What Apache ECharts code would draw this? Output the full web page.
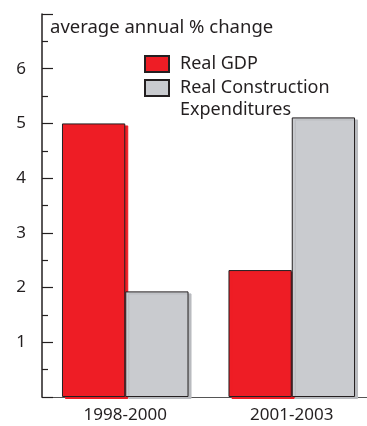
<!DOCTYPE html>
<html>
<head>
<meta charset="utf-8">
<script src="https://cdn.jsdelivr.net/npm/echarts@6/dist/echarts.min.js"></script>
<style>
  html, body { margin: 0; padding: 0; background: #fff; }
  #chart { width: 367px; height: 426px; }
</style>
</head>
<body>
<div id="chart"></div>
<script>
// periods and average annual % change
const periods = ['1998-2000', '2001-2003'];
const realGdp = [5.0, 2.32];
const realConstruction = [1.93, 5.11];
const yTicks = [1, 2, 3, 4, 5, 6];

const ink = '#231F20';
const font = 'Noto Sans';

const chart = echarts.init(document.getElementById('chart'));

const legendText = {
    color: ink,
    fontFamily: font,
    fontSize: 18,
    lineHeight: 22,
    rich: {
        a: { color: ink, fontFamily: font, fontSize: 18, lineHeight: 22, padding: [0, 0, 0, 6] }
    }
};

const option = {
    animation: false,
    title: {
        text: 'average annual % change',
        left: 50,
        top: 18,
        padding: 0,
        textStyle: {
            color: ink,
            fontFamily: font,
            fontSize: 18.5,
            fontWeight: 'normal'
        }
    },
    legend: [
        {
            data: ['Real GDP'],
            left: 144,
            top: 53,
            padding: 0,
            icon: 'rect',
            itemWidth: 24,
            itemHeight: 16,
            formatter: name => '{a|' + name + '}',
            textStyle: legendText
        },
        {
            data: ['Real Construction Expenditures'],
            left: 144,
            top: 55,
            padding: 0,
            icon: 'rect',
            itemWidth: 24,
            itemHeight: 16,
            // blank first line keeps the box level with "Real Construction"
            formatter: () => '{a| }\n{a|Real Construction}\n{a|Expenditures}',
            textStyle: legendText
        }
    ],
    grid: {
        left: 42,
        width: 333,
        top: 14,
        bottom: 29,
        outerBoundsMode: 'none'
    },
    xAxis: {
        type: 'category',
        data: periods,
        axisLine: { lineStyle: { color: '#555', width: 1 } },
        axisTick: { show: false },
        axisLabel: {
            color: ink,
            fontFamily: font,
            fontSize: 17,
            margin: 10
        }
    },
    yAxis: {
        type: 'value',
        min: 0,
        max: 7,
        interval: 1,
        splitLine: { show: false },
        axisLine: { show: true, lineStyle: { color: ink, width: 1.5 } },
        axisTick: {
            show: true,
            inside: true,
            length: 11,
            lineStyle: { color: ink, width: 1.2 }
        },
        minorTick: {
            show: true,
            splitNumber: 2,
            length: 6,
            lineStyle: { color: ink, width: 1.2 }
        },
        axisLabel: {
            color: ink,
            fontFamily: font,
            fontSize: 17,
            margin: 16,
            formatter: v => yTicks.includes(v) ? String(v) : ''
        }
    },
    series: [
        {
            name: 'Real GDP',
            type: 'bar',
            data: realGdp,
            barGap: 0,
            barCategoryGap: '24%',
            itemStyle: {
                color: '#EE1D25',
                borderColor: ink,
                borderWidth: 1,
                shadowColor: '#EE1D25',
                shadowOffsetX: 3,
                shadowOffsetY: 2,
                shadowBlur: 0
            }
        },
        {
            name: 'Real Construction Expenditures',
            type: 'bar',
            data: realConstruction,
            itemStyle: {
                color: '#C9CBCF',
                borderColor: ink,
                borderWidth: 1,
                shadowColor: '#B9BBBF',
                shadowOffsetX: 3,
                shadowOffsetY: 2,
                shadowBlur: 0
            }
        }
    ]
};

chart.setOption(option);
</script>
</body>
</html>
